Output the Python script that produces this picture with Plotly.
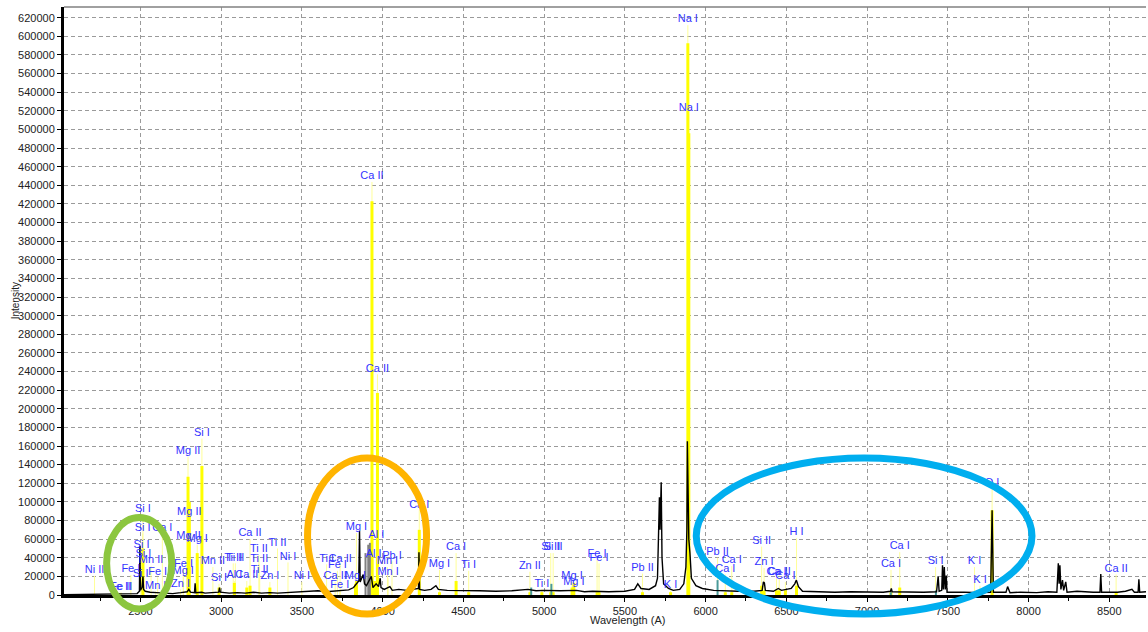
import plotly.graph_objects as go

# ---------------- axis ranges ----------------
X_MIN, X_MAX = 2027, 8727
Y_MIN, Y_MAX = 0, 631500

# ---------------- identified emission lines ----------------
line_labels = ["Ni II", "Fe II", "Fe II", "Si I", "Si I", "Ca I", "Si I", "Si I", "Mn II", "Fe I",
               "Fe I", "Si I", "Mn I", "Zn I", "Mg I", "Fe I", "Mg II", "Mg II", "Mg II", "Mg I",
               "Si I", "Mn II", "Si I", "Ti II", "Ti II", "Al I", "Ca II", "Ca II", "Ti II", "Ti II",
               "Ti II", "Zn I", "Ti II", "Ni I", "Ni I", "Ti I", "Ca II", "Fe I", "Ca II", "Fe I",
               "Mg I", "Mg I", "Ca II", "Al I", "Ca II", "Al I", "Mn I", "Pb I", "Mn I", "Ca I",
               "Mg I", "Ca I", "Ti I", "Zn II", "Ti I", "Si II", "Si II", "Mg I", "Mg I", "Fe I",
               "Fe I", "Pb II", "K I", "Na I", "Na I", "Pb II", "Ca I", "Ca I", "Si II", "Zn I",
               "Ca I", "Ca II", "Ca I", "H I", "Ca I", "Ca I", "Si I", "K I", "K I", "O I",
               "Ca II"]
line_wl = [2216, 2375, 2382, 2516, 2514, 2636, 2507, 2519, 2566, 2441,
           2607, 2502, 2595, 2749, 2765, 2767, 2795, 2803, 2798, 2852,
           2881, 2949, 2987, 3075, 3088, 3082, 3179, 3159, 3234, 3236,
           3239, 3302, 3349, 3414, 3500, 3653, 3737, 3720, 3706, 3735,
           3832, 3838, 3934, 3944, 3968, 3961, 4030, 4058, 4034, 4227,
           4352, 4455, 4533, 4912, 4986, 5041, 5056, 5173, 5184, 5328,
           5340, 5609, 5783, 5890, 5896, 6074, 6122, 6162, 6347, 6362,
           6439, 6456, 6494, 6563, 7148, 7202, 7424, 7665, 7699, 7774,
           8542]
line_meas = [0, 0, 0, 50000, 0, 0, 0, 0, 0, 0,
             0, 0, 0, 0, 0, 0, 127000, 100000, 0, 45000,
             138500, 0, 8000, 0, 0, 13000, 10000, 8000, 0, 0,
             0, 8000, 0, 0, 0, 0, 0, 0, 0, 0,
             12000, 15000, 423000, 15000, 217000, 15000, 0, 0, 0, 70000,
             3000, 15000, 3000, 3000, 3000, 3000, 3000, 8000, 13000, 3000,
             3000, 3000, 3000, 592600, 496000, 0, 3000, 3000, 10000, 5000,
             5000, 5000, 5000, 10000, 3000, 8000, 0, 3000, 3000, 91000,
             3000]
line_ref = [20500, 2500, 2500, 86000, 66000, 66000, 48000, 38000, 31000, 21500,
            19000, 16000, 4000, 6000, 20000, 27000, 148500, 83000, 57000, 54000,
            168000, 30000, 12000, 34000, 34000, 15000, 60000, 15000, 43000, 33000,
            21000, 14000, 50000, 35000, 14000, 33000, 33000, 26000, 14000, 5000,
            14000, 66600, 443600, 38000, 237000, 58000, 30000, 36000, 18000, 91000,
            27000, 45000, 26000, 25000, 6000, 45000, 45000, 14000, 8000, 38000,
            34000, 23000, 5000, 612000, 517000, 40000, 22000, 31000, 52000, 29000,
            18000, 18000, 14000, 61000, 27000, 46000, 30000, 30000, 10000, 114600,
            22000]

# secondary markers
teal_wl = [4920, 5045, 6074, 7147, 7426]
teal_int = [8000, 12000, 16000, 3000, 5000]
gray_wl = [3894, 3911, 3921]
gray_int = [45000, 54000, 56000]

# ---------------- measured spectrum ----------------
spec_wl = [2027, 2100, 2200, 2300, 2380, 2440, 2480, 2494, 2497, 2500, 2510, 2516, 2520, 2530, 2560,
           2600, 2650, 2700, 2750, 2790, 2800, 2810, 2835, 2839, 2843, 2880, 2900, 2950, 2985, 2990,
           2995, 3050, 3100, 3150, 3200, 3250, 3300, 3350, 3400, 3450, 3500, 3550, 3600, 3650, 3700,
           3750, 3790, 3820, 3840, 3852, 3857, 3861, 3870, 3880, 3888, 3900, 3930, 3940, 3960, 3975,
           3985, 3990, 4010, 4045, 4060, 4100, 4150, 4200, 4222, 4225, 4229, 4260, 4300, 4330, 4345,
           4400, 4500, 4600, 4700, 4800, 4900, 4950, 5000, 5100, 5200, 5250, 5300, 5400, 5500, 5560,
           5580, 5600, 5650, 5690, 5702, 5710, 5714, 5718, 5722, 5725, 5730, 5740, 5770, 5800, 5840,
           5865, 5878, 5884, 5887, 5890, 5896, 5903, 5912, 5940, 5980, 6050, 6100, 6200, 6300, 6350,
           6358, 6364, 6370, 6420, 6450, 6470, 6500, 6530, 6552, 6562, 6575, 6600, 6700, 6800, 6900,
           7000, 7100, 7145, 7150, 7155, 7250, 7350, 7430, 7440, 7446, 7462, 7467, 7472, 7478, 7484,
           7490, 7495, 7600, 7700, 7765, 7774, 7782, 7860, 7870, 7885, 7950, 8050, 8120, 8175, 8180,
           8184, 8189, 8194, 8200, 8210, 8217, 8230, 8238, 8300, 8400, 8442, 8447, 8452, 8550, 8600,
           8640, 8655, 8678, 8683, 8688, 8727]
spec_int = [300, 400, 500, 600, 800, 1000, 1500, 4000, 53000, 5000, 8000, 20000, 6000, 4000, 3000,
            2500, 2000, 1500, 2500, 3500, 6000, 3000, 2500, 12500, 2500, 3000, 2000, 2500, 3000, 8000,
            3000, 2000, 2500, 2000, 3000, 2000, 2500, 2000, 2500, 2500, 3000, 3500, 4500, 3500, 4000,
            4500, 5500, 8000, 12000, 15000, 69000, 14000, 18000, 22000, 12000, 10000, 20000, 8000, 12000, 9000,
            18000, 8000, 6000, 9000, 5000, 6000, 5000, 6000, 7000, 46000, 6000, 5000, 6000, 10000, 6000,
            5000, 5000, 4500, 4000, 4500, 6000, 4500, 5000, 4500, 5000, 3500, 4000, 3500, 4000, 6000,
            12000, 7000, 6000, 10000, 18000, 60000, 105000, 70000, 90000, 121000, 40000, 12000, 7000, 5000, 6000,
            12000, 30000, 70000, 165000, 120000, 60000, 45000, 18000, 10000, 7000, 5000, 4500, 4000, 4000, 5000,
            14000, 13000, 5000, 4000, 7000, 5000, 6000, 7000, 12000, 16000, 9000, 4000, 3500, 3000, 3500,
            3000, 3000, 4000, 7000, 3500, 3000, 3000, 3500, 20000, 4000, 5000, 32000, 6000, 30000, 6000,
            21000, 3000, 3000, 2500, 3000, 91000, 3000, 3000, 9000, 2500, 3000, 2500, 3500, 3000, 20000,
            34000, 12000, 32000, 6000, 16000, 5000, 14000, 3000, 4000, 3000, 3000, 22500, 3000, 3000, 4000,
            6000, 3000, 3000, 17000, 3000, 3500]

# ---------------- highlight ellipses (data units) ----------------
ell_x0 = [2291, 3535, 5942]
ell_x1 = [2694, 4272, 8021]
ell_y0 = [-15000, -20400, -20400]
ell_y1 = [83200, 147100, 147100]
ell_color = ["#8cc63f", "#ffb400", "#00aeef"]


def segs(xs, ys):
    sx, sy = [], []
    for w, h in zip(xs, ys):
        if h > 0:
            sx += [w, w, None]
            sy += [0, h, None]
    return sx, sy


fig = go.Figure()

px_, py_ = segs(line_wl, line_ref)
fig.add_trace(go.Scatter(x=px_, y=py_, mode="lines", line=dict(color="#ffff99", width=1),
                         hoverinfo="skip", showlegend=False))
bx, by = segs(line_wl, line_meas)
fig.add_trace(go.Scatter(x=bx, y=by, mode="lines", line=dict(color="#ffff00", width=3),
                         hoverinfo="skip", showlegend=False))
tx, ty = segs(teal_wl, teal_int)
fig.add_trace(go.Scatter(x=tx, y=ty, mode="lines", line=dict(color="#4a9a9a", width=2),
                         hoverinfo="skip", showlegend=False))
gx, gy = segs(gray_wl, gray_int)
fig.add_trace(go.Scatter(x=gx, y=gy, mode="lines", line=dict(color="#808080", width=2),
                         hoverinfo="skip", showlegend=False))
fig.add_trace(go.Scatter(x=spec_wl, y=spec_int, mode="lines", line=dict(color="black", width=1.4),
                         showlegend=False))
fig.add_trace(go.Scatter(x=line_wl, y=line_ref, mode="text", text=line_labels,
                         textposition="top center",
                         textfont=dict(color="#3333ff", size=11, family="Arial, Liberation Sans"),
                         hoverinfo="skip", showlegend=False))

def xp(w):
    return (w - X_MIN) / (X_MAX - X_MIN)

def yp(v):
    return (v - Y_MIN) / (Y_MAX - Y_MIN)

shapes = []
for a, b, c, d, col in zip(ell_x0, ell_x1, ell_y0, ell_y1, ell_color):
    shapes.append(dict(type="circle", xref="paper", yref="paper",
                       x0=xp(a), x1=xp(b), y0=yp(c), y1=yp(d),
                       line=dict(color=col, width=7), layer="above"))
shapes.append(dict(type="line", xref="paper", yref="paper", x0=0, x1=1, y0=1, y1=1,
                   line=dict(color="#808080", width=1.5), layer="above"))

fig.update_layout(
    width=1148, height=632,
    margin=dict(l=64, r=2, t=7, b=37),
    paper_bgcolor="white", plot_bgcolor="white",
    font=dict(family="Arial, Liberation Sans", size=11, color="#222222"),
    shapes=shapes,
    annotations=[
        dict(text="Wavelength (A)", xref="x", yref="paper", x=5515, y=-0.0425,
             showarrow=False, yanchor="middle", font=dict(size=11, color="#222222")),
        dict(text="Intensity", xref="paper", yref="paper", x=-0.045, y=0.5, textangle=-90,
             showarrow=False, xanchor="center", yanchor="middle", font=dict(size=10, color="#222222")),
    ],
)
fig.update_xaxes(range=[X_MIN, X_MAX], tick0=2500, dtick=500, showgrid=True, gridcolor="#9a9a9a",
                 griddash="4px,3px", gridwidth=1, showline=True, linecolor="black", linewidth=3,
                 ticks="outside", ticklen=4, tickcolor="black", zeroline=False,
                 minor=dict(ticks="outside", dtick=250, ticklen=3, tickcolor="black", showgrid=False),
                 tickfont=dict(size=11))
fig.update_yaxes(range=[Y_MIN, Y_MAX], tick0=0, dtick=20000, tickformat="d", showgrid=True,
                 gridcolor="#9a9a9a", griddash="4px,3px", gridwidth=1, showline=True,
                 linecolor="black", linewidth=3, ticks="outside", ticklen=4, tickcolor="black",
                 zeroline=False, tickfont=dict(size=11))

fig.write_html("out.html")
